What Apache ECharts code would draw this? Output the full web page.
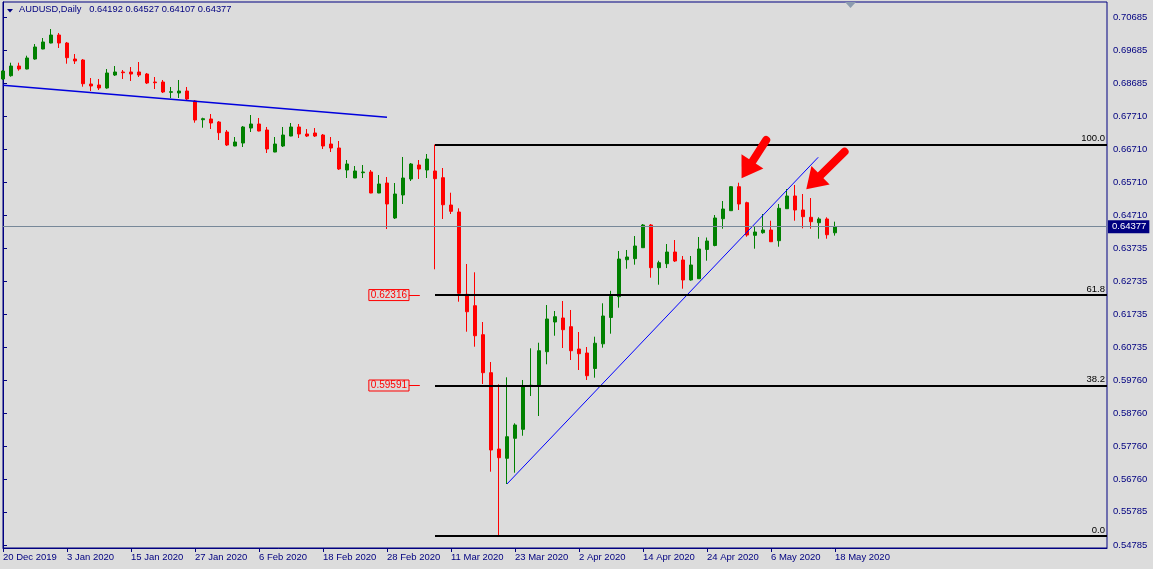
<!DOCTYPE html>
<html><head><meta charset="utf-8">
<script src="https://cdn.jsdelivr.net/npm/echarts@6/dist/echarts.min.js"></script>
<style>html,body{margin:0;padding:0;background:#dcdcdc}#c{width:1153px;height:569px}</style>
</head><body><div id="c"></div>
<script>
// ---------- data ----------
const symbolName = 'AUDUSD';
const timeframe = 'Daily';
const dateLabels = ['20 Dec 2019','3 Jan 2020','15 Jan 2020','27 Jan 2020','6 Feb 2020','18 Feb 2020','28 Feb 2020','11 Mar 2020','23 Mar 2020','2 Apr 2020','14 Apr 2020','24 Apr 2020','6 May 2020','18 May 2020'];
const barsPerLabel = 8;
const futureBars = 34;

const openP = [0.68826,0.68925,0.69217,0.69127,0.69428,0.69730,0.69910,0.70151,0.69910,0.69428,
0.69398,0.68675,0.68645,0.68555,0.68946,0.69037,0.69037,0.69037,0.68976,0.68735,
0.68735,0.68425,0.68404,0.68464,0.68163,0.67599,0.67621,0.67530,0.67229,0.66807,
0.66897,0.67349,0.67470,0.67289,0.66626,0.66807,0.67108,0.67380,0.67169,0.67199,
0.67138,0.66867,0.66747,0.66084,0.65843,0.66003,0.66024,0.65391,0.65692,0.64638,
0.65331,0.65813,0.66235,0.66084,0.66054,0.65852,0.65029,0.64818,0.62339,0.61995,
0.61122,0.59977,0.57678,0.57398,0.58000,0.58271,0.59567,0.59606,0.60609,0.61504,
0.61625,0.61363,0.60691,0.60570,0.60103,0.60847,0.61640,0.62267,0.63381,0.63412,
0.63743,0.64427,0.63140,0.63261,0.63613,0.63372,0.62770,0.62809,0.63689,0.63809,
0.64617,0.64858,0.65581,0.65099,0.64116,0.64195,0.64276,0.63954,0.64918,0.65301,
0.64879,0.64659,0.64496,0.64608,0.64192];
const highP = [0.69097,0.69317,0.69317,0.69528,0.69880,0.70061,0.70332,0.70212,0.69941,0.69579,
0.69428,0.68856,0.68826,0.69127,0.69217,0.69097,0.69187,0.69338,0.69007,0.68886,
0.68796,0.68585,0.68796,0.68585,0.68193,0.67660,0.67771,0.67560,0.67289,0.67078,
0.67410,0.67741,0.67651,0.67380,0.67078,0.67380,0.67500,0.67470,0.67319,0.67349,
0.67169,0.67078,0.66958,0.66385,0.66204,0.66235,0.66084,0.65933,0.65873,0.65692,
0.66476,0.66295,0.66385,0.66566,0.66850,0.66144,0.65400,0.64930,0.63252,0.63002,
0.61504,0.60299,0.59627,0.59838,0.58452,0.59757,0.60712,0.60880,0.62016,0.61836,
0.62137,0.61866,0.61203,0.60751,0.61061,0.62068,0.62444,0.63643,0.63674,0.64095,
0.64457,0.64457,0.63351,0.63854,0.63975,0.63493,0.63493,0.64065,0.64050,0.64728,
0.65150,0.65602,0.65701,0.65129,0.64367,0.64758,0.64556,0.65060,0.65511,0.65632,
0.65361,0.65240,0.64659,0.64659,0.64527];
const lowP = [0.68796,0.68895,0.69076,0.69118,0.69407,0.69721,0.69900,0.69760,0.69287,0.69278,
0.68594,0.68464,0.68494,0.68534,0.68916,0.68826,0.68766,0.68886,0.68675,0.68524,
0.68404,0.68253,0.68253,0.68193,0.67509,0.67358,0.67319,0.66988,0.66807,0.66800,
0.66777,0.67229,0.67250,0.66596,0.66620,0.66777,0.67100,0.67048,0.67078,0.67078,
0.66717,0.66626,0.66084,0.65843,0.65840,0.65843,0.65385,0.65385,0.64306,0.64608,
0.65060,0.65753,0.65813,0.65843,0.63092,0.64608,0.64758,0.62116,0.61212,0.60760,
0.59636,0.56994,0.55060,0.56623,0.56964,0.58078,0.59275,0.58672,0.60230,0.61091,
0.60721,0.60359,0.60058,0.59757,0.59826,0.60730,0.61152,0.61935,0.63110,0.63231,
0.63740,0.62839,0.62628,0.63130,0.63312,0.62508,0.62750,0.62800,0.63351,0.63785,
0.64315,0.64850,0.64879,0.64074,0.63713,0.64165,0.63915,0.63773,0.64910,0.64556,
0.64327,0.64315,0.64014,0.64014,0.64107];
const closeP = [0.69067,0.69217,0.69127,0.69459,0.69790,0.69941,0.70151,0.69910,0.69468,0.69368,
0.68684,0.68615,0.68555,0.69007,0.69037,0.69016,0.68976,0.68946,0.68705,0.68714,
0.68434,0.68443,0.68464,0.68223,0.67590,0.67630,0.67500,0.67208,0.66837,0.66928,
0.67380,0.67470,0.67259,0.66717,0.66867,0.67138,0.67380,0.67169,0.67108,0.67108,
0.66807,0.66747,0.66114,0.66265,0.66054,0.66024,0.65391,0.65662,0.65060,0.65361,
0.65843,0.66265,0.66114,0.66415,0.65822,0.65038,0.64839,0.62369,0.61814,0.61091,
0.59977,0.57648,0.57416,0.58048,0.58401,0.59567,0.59598,0.60639,0.61595,0.61664,
0.61272,0.60639,0.60549,0.59886,0.60865,0.61685,0.62279,0.63402,0.63463,0.63794,
0.64427,0.63140,0.63291,0.63613,0.63342,0.62770,0.63222,0.63704,0.63945,0.64638,
0.64909,0.65581,0.65060,0.64125,0.64216,0.64276,0.63923,0.64930,0.65301,0.64879,
0.64677,0.64526,0.64608,0.64134,0.64377];

const priceTicks = [0.70685,0.69685,0.68685,0.67710,0.66710,0.65710,0.64710,0.63735,0.62735,
0.61735,0.60735,0.59760,0.58760,0.57760,0.56760,0.55785,0.54785];
const priceMin = 0.54695, priceMax = 0.71146;

const fibLevels = [100.0, 61.8, 38.2, 0.0];
const fibPrices = [0.66850, 0.62316, 0.59591, 0.55060];
const fibStartBar = 54;
const priceTags = [0.62316, 0.59591];
const priceTagBars = [50.75, 52.1];
const trendLines = [
  [[0, 0.68636], [48, 0.67672]],
  [[63, 0.56624], [101.9, 0.66467]]
];
const arrows = [
  [[95.4, 0.66988], [93.0, 0.66090]],
  [[105.2, 0.66635], [101.3, 0.65712]]
];

// ---------- chart ----------
const FONT = 'Liberation Sans';
const NAVY = '#000080';
const N = openP.length;
const lastSlot = N - 1 + futureBars;
const categories = Array.from({length: lastSlot + 1}, (_, i) =>
  (i % barsPerLabel === 0 && i / barsPerLabel < dateLabels.length) ? dateLabels[i / barsPerLabel] : '');
const candleData = openP.map((o, i) => [o, closeP[i], lowP[i], highP[i]]);
const lastO = openP[N-1], lastH = highP[N-1], lastL = lowP[N-1], lastC = closeP[N-1];
const showIdx = (i) => i % barsPerLabel === 0 && i / barsPerLabel < dateLabels.length;

const chart = echarts.init(document.getElementById('c'), null, {renderer: 'canvas'});
chart.setOption({
  animation: false,
  backgroundColor: '#dcdcdc',
  title: {
    text: symbolName + ',' + timeframe + '   ' + [lastO, lastH, lastL, lastC].map(v => v.toFixed(5)).join(' '),
    left: 19, top: 5, padding: 0,
    textStyle: {fontFamily: FONT, fontSize: 9.3, fontWeight: 'normal', color: NAVY}
  },
  graphic: [
    {type: 'polygon', shape: {points: [[7, 9], [13, 9], [10, 12.5]]}, style: {fill: NAVY}},
    {type: 'polygon', shape: {points: [[845, 2], [856, 2], [850.5, 8]]}, style: {fill: '#8c9cb0'}}
  ],
  grid: {left: 3, right: 46, top: 2, bottom: 21, show: true, borderColor: NAVY, borderWidth: 1, containLabel: false},
  xAxis: [
    {
      type: 'category', data: categories, boundaryGap: false, gridIndex: 0,
      axisLine: {show: true, lineStyle: {color: NAVY, width: 1}},
      axisTick: {show: true, interval: showIdx, length: 4, lineStyle: {color: NAVY}},
      axisLabel: {interval: showIdx, align: 'left', margin: 4, color: NAVY, fontFamily: FONT, fontSize: 9.5},
      splitLine: {show: false}
    },
    {type: 'value', min: 0, max: lastSlot, show: false, gridIndex: 0}
  ],
  yAxis: [{
    type: 'value', position: 'right', min: priceMin, max: priceMax, scale: true,
    axisLine: {show: true, lineStyle: {color: NAVY}},
    axisTick: {show: true, length: 4, customValues: priceTicks, lineStyle: {color: NAVY}},
    axisLabel: {customValues: priceTicks, formatter: v => v.toFixed(5), align: 'left', margin: 6,
      color: NAVY, fontFamily: FONT, fontSize: 9.5},
    splitLine: {show: false}
  }],
  series: [
    {
      type: 'line', xAxisIndex: 1, yAxisIndex: 0, data: [], symbol: 'none', silent: true, z: 1,
      markLine: {
        silent: true, symbol: 'none', animation: false,
        lineStyle: {color: '#778899', width: 1, type: 'solid'},
        label: {position: 'end', formatter: p => p.name, color: '#ffffff', backgroundColor: NAVY,
          padding: [2, 3, 1, 4], distance: 1, fontFamily: FONT, fontSize: 9.5},
        data: [[{coord: [0, lastC], name: lastC.toFixed(5)}, {coord: [lastSlot, lastC], name: lastC.toFixed(5)}]]
      }
    },
    {
      type: 'candlestick', xAxisIndex: 0, yAxisIndex: 0, data: candleData, barWidth: 4, z: 3,
      itemStyle: {color: '#008000', color0: '#ff0000', borderColor: '#008000', borderColor0: '#ff0000', borderWidth: 1}
    },
    {
      type: 'line', xAxisIndex: 1, yAxisIndex: 0, data: trendLines[0], symbol: 'none', silent: true, z: 4,
      lineStyle: {color: '#0000dd', width: 1.5},
      markLine: {
        silent: true, symbol: 'none', animation: false,
        lineStyle: {color: '#000000', width: 2, type: 'solid'},
        label: {position: 'insideEndTop', formatter: p => p.name, color: '#000000', distance: [2, 1],
          fontFamily: FONT, fontSize: 9.5},
        data: fibPrices.map((p, k) => [
          {coord: [fibStartBar, p], name: fibLevels[k].toFixed(1)},
          {coord: [lastSlot, p], name: fibLevels[k].toFixed(1)}
        ])
      }
    },
    {
      type: 'line', xAxisIndex: 1, yAxisIndex: 0, data: trendLines[1], symbol: 'none', silent: true, z: 4,
      lineStyle: {color: '#0000ff', width: 1},
      markLine: {
        silent: true, symbol: 'none', animation: false,
        lineStyle: {color: '#ff0000', width: 1, type: 'solid'},
        label: {position: 'start', formatter: p => p.name, color: '#ff0000', borderColor: '#ff0000', borderWidth: 1,
          padding: [1, 2, 0, 2], distance: 0, fontFamily: FONT, fontSize: 10},
        data: priceTags.map(p => [
          {coord: [priceTagBars[0], p], name: p.toFixed(5)},
          {coord: [priceTagBars[1], p], name: p.toFixed(5)}
        ])
      }
    },
    {
      type: 'line', xAxisIndex: 1, yAxisIndex: 0, data: [], symbol: 'none', silent: true, z: 5,
      markLine: {
        silent: true, animation: false,
        lineStyle: {color: '#ff0000', width: 8, type: 'solid', cap: 'round'},
        itemStyle: {color: '#ff0000'},
        label: {show: false},
        data: arrows.map(a => [
          {coord: a[0], symbol: 'none'},
          {coord: a[1], symbol: 'triangle', symbolSize: [26, 20]}
        ])
      }
    }
  ]
});
</script>
</body></html>
